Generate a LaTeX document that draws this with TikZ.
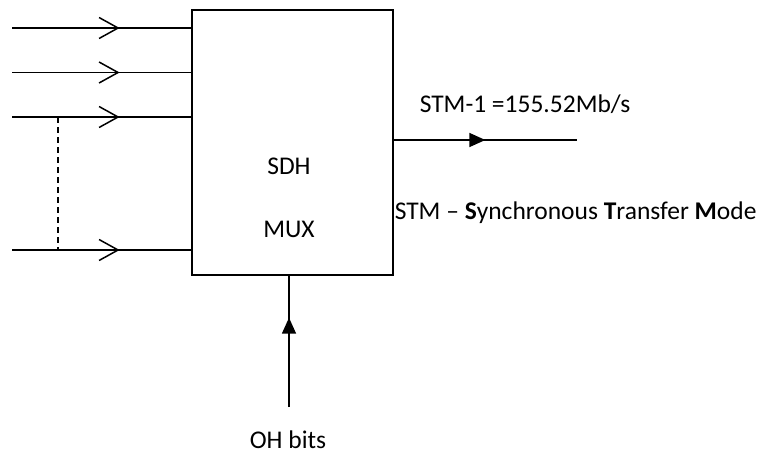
\documentclass[tikz,border=0pt]{standalone}
\usepackage{fontspec}
\setmainfont{Carlito}
\usetikzlibrary{arrows.meta,decorations.markings}

\begin{document}
\begin{tikzpicture}[
  x=1pt,y=-1pt,
  every node/.style={font=\fontsize{25.5}{30}\selectfont,inner sep=0pt},
  line width=1.5pt,
  muxbox/.style={draw,line width=1.3pt,minimum width=201pt,minimum height=265pt},
  openmid/.style={postaction={decorate},decoration={markings,mark=at position #1 with {\arrow{Straight Barb[length=19pt,width=21pt,line width=1.5pt]}}}},
  filledmid/.style={postaction={decorate},decoration={markings,mark=at position #1 with {\arrow{Triangle[length=16pt,width=14pt]}}}}
]
  \useasboundingbox (0,0) rectangle (762,455);
  \node[muxbox] (mux) at (292.5,142.5) {};
  \node (sdh) at (289,166) {SDH};
  \node (muxlabel) at (289,229) {MUX};
  % inputs
  \coordinate (in1) at (12,28);
  \coordinate (in2) at (12,72.5);
  \coordinate (in3) at (12,117);
  \coordinate (in4) at (12,250);
  \foreach \i in {in1,in2,in3,in4}
    \draw[openmid=0.6] (\i) -- (mux.west |- \i);
  \coordinate (d1) at (58,117);
  \coordinate (d2) at (58,250);
  \draw[dashed,line width=1.2pt,dash pattern=on 6pt off 4pt] (d1) -- (d2);
  % output
  \coordinate (outst) at (mux.east |- 0,140);
  \coordinate (outend) at (577,140);
  \draw[filledmid=0.5] (outst) -- (outend);
  \node[anchor=west] (rate) at (419,104) {STM-1 =155.52Mb/s};
  \node[anchor=west] (stm) at (394,213) {STM -- \textbf{S}ynchronous \textbf{T}ransfer \textbf{M}ode};
  % overhead
  \coordinate (oh) at (289,407);
  \draw[filledmid=0.68] (oh) -- (oh |- mux.south);
  \node (ohbits) at (288,440) {OH bits};
\end{tikzpicture}
\end{document}
